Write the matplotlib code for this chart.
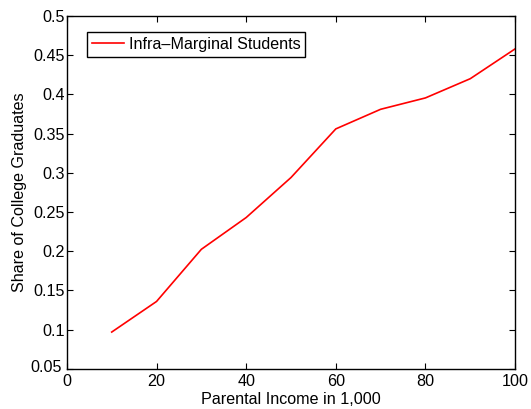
import matplotlib
matplotlib.use("Agg")
import matplotlib.pyplot as plt
import matplotlib.transforms as mtransforms

plt.rcParams['font.family'] = ['Liberation Sans', 'DejaVu Sans']

income = [10, 20, 30, 40, 50, 60, 70, 80, 90, 100]
share_grads = [0.097, 0.136, 0.2025, 0.243, 0.294, 0.356, 0.381, 0.3955, 0.420, 0.458]

x_ticks = [0, 20, 40, 60, 80, 100]
y_ticks = [0.05, 0.1, 0.15, 0.2, 0.25, 0.3, 0.35, 0.4, 0.45, 0.5]
y_labels = ['0.05', '0.1', '0.15', '0.2', '0.25', '0.3', '0.35', '0.4', '0.45', '0.5']

fs = 11.6

fig = plt.figure(figsize=(5.31, 4.09), dpi=100)
ax = fig.add_axes([0.126, 0.098, 0.844, 0.863])

ax.plot(income, share_grads, color='#ff0000', linewidth=1.2, label='Infra\u2013Marginal Students')

ax.set_xlim(0, 100)
ax.set_ylim(0.05, 0.5)
ax.set_xticks(x_ticks)
ax.set_xticklabels([str(t) for t in x_ticks])
ax.set_yticks(y_ticks)
ax.set_yticklabels(y_labels)
ax.tick_params(direction='in', top=True, right=True, labelsize=fs, length=4, width=0.8, pad=1.5)
ax.tick_params(axis='x', pad=4)
for s in ax.spines.values():
    s.set_linewidth(1.0)

# nudge the bottom y label so it does not run into the "0" of the x axis
lab = ax.get_yticklabels()[0]
lab.set_transform(lab.get_transform() + mtransforms.ScaledTranslation(-2 / 72, 2 / 72, fig.dpi_scale_trans))

ax.set_xlabel('Parental Income in 1,000', fontsize=fs, labelpad=1.5)
ax.set_ylabel('Share of College Graduates', fontsize=fs, labelpad=3)

leg = ax.legend(loc='upper left', bbox_to_anchor=(0.0446, 0.955), fontsize=fs,
                fancybox=False, framealpha=1, edgecolor='black', borderaxespad=0,
                handlelength=2.0, borderpad=0.3, handletextpad=0.3)
leg.get_frame().set_linewidth(1.0)

fig.savefig('out.png', dpi=100)
